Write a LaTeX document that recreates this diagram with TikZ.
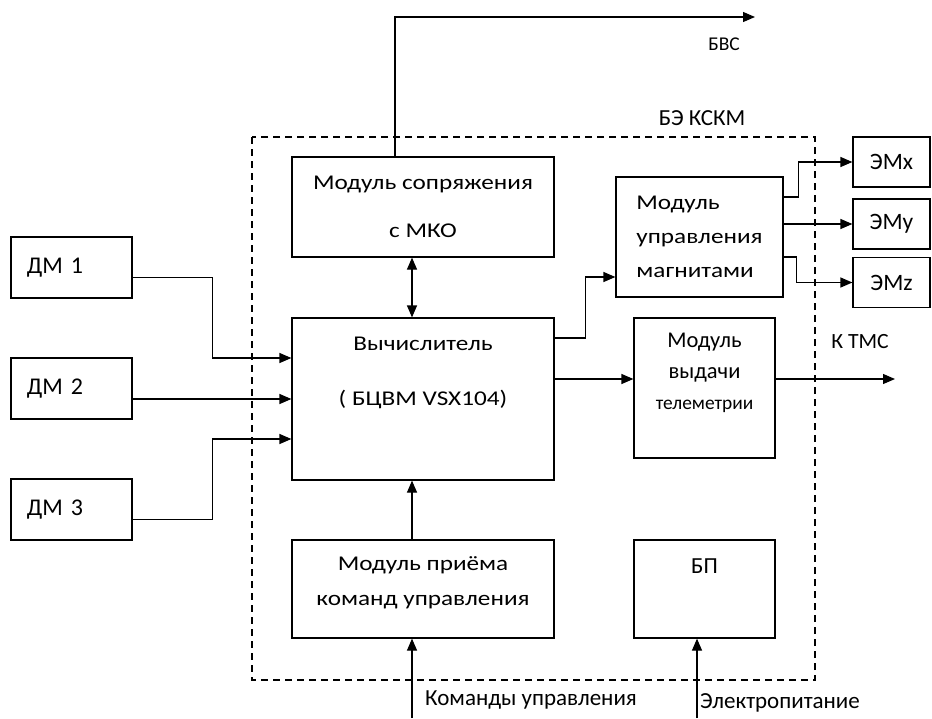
\documentclass[tikz,border=0pt]{standalone}
\usepackage{fontspec}
\setmainfont{Carlito}[FakeStretch=1.2]
\newfontfamily\plainfont{Carlito}
\usetikzlibrary{arrows.meta,positioning,calc}

\begin{document}
\begin{tikzpicture}[x=1pt, y=-1pt,
    block/.style={rectangle, draw, line width=1.2pt, inner sep=0pt, font=\fontsize{21}{34}\selectfont},
    txt/.style={inner sep=0pt, align=center, font=\fontsize{21}{34}\selectfont},
    lbl/.style={inner sep=0pt, align=center, font=\plainfont\fontsize{23}{27}\selectfont},
    arr/.style={-{Triangle[length=12pt,width=10pt]}, line width=1.2pt},
    biarr/.style={{Triangle[length=12pt,width=10pt]}-{Triangle[length=12pt,width=10pt]}, line width=1.2pt},
    frame/.style={line width=1.2pt, dash pattern=on 7pt off 5pt}]
    \useasboundingbox (0,0) rectangle (932,718);
    % dashed frame of the unit
    \draw[frame] (252,137) rectangle (815,680);
    \node[lbl] (framelbl) at (702,118) {БЭ КСКМ};
    % modules
    \node[block, minimum width=262pt, minimum height=100pt, align=center] (mko) at (423,207) {Модуль сопряжения\\[14pt]с МКО};
    \node[block, minimum width=167pt, minimum height=120pt, align=left] (magn) at (699.5,237) {Модуль\\управления\\магнитами};
    \node[block, minimum width=262pt, minimum height=162pt] (calc) at (423,399) {};
    \node[txt] (calctxt) at (423,373) {Вычислитель\\[21pt]( БЦВМ VSX104)};
    \node[block, minimum width=141pt, minimum height=140pt] (vyd) at (704.5,388) {};
    \node[lbl, font=\plainfont\fontsize{22.5}{31}\selectfont] (vydtxt) at (704.5,373) {Модуль\\выдачи\\{\fontsize{19.4}{31}\selectfont телеметрии}};
    \node[block, minimum width=262pt, minimum height=98pt] (prm) at (423,589) {};
    \node[txt] (prmtxt) at (423,583) {Модуль приёма\\[1pt]команд управления};
    \node[block, minimum width=141pt, minimum height=98pt] (bp) at (704.5,589) {};
    \node[lbl] (bptxt) at (704.5,566) {БП};
    % sensors
    \node[block, font=\plainfont\fontsize{24}{28}\selectfont, minimum height=61pt, inner xsep=16pt, text width=89pt, align=left] (dm1) at (71.5,267.5) {ДМ 1};
    \node[block, font=\plainfont\fontsize{24}{28}\selectfont, minimum height=61pt, inner xsep=16pt, text width=89pt, align=left] (dm2) at (71.5,388.5) {ДМ 2};
    \node[block, font=\plainfont\fontsize{24}{28}\selectfont, minimum height=61pt, inner xsep=16pt, text width=89pt, align=left] (dm3) at (71.5,509.5) {ДМ 3};
    % magnets
    \node[block, font=\plainfont\fontsize{23.5}{28}\selectfont, minimum width=77pt, minimum height=50pt] (emx) at (891.5,162) {ЭМx};
    \node[block, font=\plainfont\fontsize{23.5}{28}\selectfont, minimum width=77pt, minimum height=50pt] (emy) at (891.5,224) {ЭМy};
    \node[block, font=\plainfont\fontsize{23.5}{28}\selectfont, minimum width=77pt, minimum height=50pt] (emz) at (891.5,282.5) {ЭМz};
    % outer labels
    \node[lbl, font=\plainfont\fontsize{19.5}{23}\selectfont] (bvslbl) at (724,44) {БВС};
    \node[lbl, font=\plainfont\fontsize{21.7}{26}\selectfont] (tmslbl) at (860,342) {К ТМС};
    \node[lbl, anchor=west] (cmdlbl) at (425,700) {Команды управления};
    \node[lbl, anchor=west] (pwrlbl) at (700,703) {Электропитание};
    \coordinate (bvs) at (755,17);
    \coordinate (tms) at (895,379);
    \coordinate (cmd) at (412,718);
    \coordinate (pwr) at (697,718);
    % connections
    \draw[arr] ([xshift=-28pt]mko.north) |- (bvs);
    \draw[biarr] ([xshift=-11pt]mko.south) -- ([xshift=-11pt]calc.north);
    \draw[arr] ([yshift=-10pt]dm1.east) -- ++(80,0) |- ([yshift=41pt]calc.west);
    \draw[arr] (dm2.east |- calc.west) -- (calc.west);
    \draw[arr] ([yshift=-10pt]dm3.east) -- ++(80,0) |- ([yshift=-40pt]calc.west);
    \draw[arr] ([yshift=61pt]calc.east) -- ++(31,0) |- ([yshift=-40pt]magn.west);
    \draw[arr] (calc.east |- tms) -- (vyd.west |- tms);
    \draw[arr] (vyd.east |- tms) -- (tms);
    \draw[arr] ([yshift=40pt]magn.east) -- ++(15,0) |- (emx.west);
    \draw[arr] (magn.east |- emy.west) -- (emy.west);
    \draw[arr] ([yshift=-20pt]magn.east) -- ++(13,0) |- (emz.west);
    \draw[arr] ([xshift=-11pt]prm.north) -- ([xshift=-11pt]calc.south);
    \draw[arr] (cmd) -- (cmd |- prm.south);
    \draw[arr] (pwr) -- (pwr |- bp.south);
\end{tikzpicture}
\end{document}
